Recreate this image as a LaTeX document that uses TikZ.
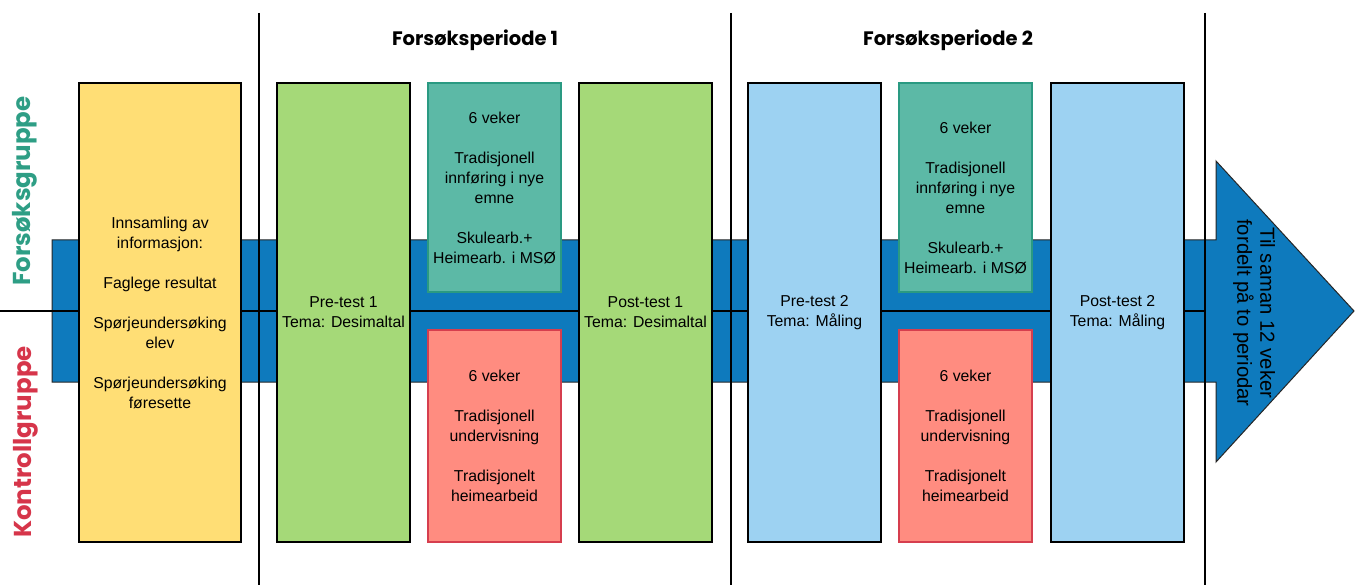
\documentclass[tikz,border=0pt]{standalone}
\usepackage{fontspec}
\setmainfont{Liberation Sans}
\newfontfamily\handfont{Poppins}
\usepackage{xcolor}
\usepackage{tikz}

\definecolor{infoyellow}{HTML}{FFDE75}
\definecolor{testgreen}{HTML}{A5D978}
\definecolor{testblue}{HTML}{9DD2F2}
\definecolor{expfill}{HTML}{5CB9A6}
\definecolor{expedge}{HTML}{2A9A82}
\definecolor{ctlfill}{HTML}{FF8C80}
\definecolor{ctledge}{HTML}{D63E4E}
\definecolor{bandblue}{HTML}{0E7ABD}
\definecolor{explabel}{HTML}{2E9E85}
\definecolor{ctllabel}{HTML}{D6354A}

\begin{document}
\begin{tikzpicture}[x=1pt, y=-1pt,
  box/.style={draw=black, line width=1.3pt, inner sep=2pt, minimum width=133pt,
    align=center, font=\fontsize{15.8}{20}\selectfont},
  testbox/.style={box, minimum height=459pt},
  expbox/.style={box, fill=expfill, draw=expedge, minimum height=209pt},
  ctlbox/.style={box, fill=ctlfill, draw=ctledge, minimum height=212pt},
  divider/.style={draw=black, line width=1.3pt},
  heading/.style={font=\handfont\bfseries\fontsize{19.5}{24}\selectfont},
  grouplabel/.style={rotate=90, font=\handfont\bfseries\fontsize{24.5}{28}\selectfont}]
\useasboundingbox (0,0) rectangle (1355,585);

% Band with arrow head
\draw[fill=bandblue, draw=black!85, line width=1pt]
  (52,240) -- (1216,240) -- (1216,161) -- (1354,311) -- (1216,462)
  -- (1216,382) -- (52,382) -- cycle;
\node[rotate=-90, align=center, font=\fontsize{20.3}{23}\selectfont] (total) at (1254,313)
  {Til saman 12 veker\\fordelt på to periodar};

% Dividers
\draw[divider] (0,311) -- (1205,311);
\foreach \x in {259,731,1205}
  \draw[divider] (\x,13) -- (\x,585);

% Headings
\node[heading] (period1) at (475,40) {Forsøksperiode 1};
\node[heading] (period2) at (948,40) {Forsøksperiode 2};
\node[grouplabel, text=explabel] (expgroup) at (25,191) {Forsøksgruppe};
\node[grouplabel, text=ctllabel] (ctlgroup) at (26,442) {Kontrollgruppe};

% Boxes
\node[testbox, fill=infoyellow, minimum width=162pt] (info) at (160,312.5)
  {Innsamling av\\informasjon:\\[20pt]Faglege resultat\\[20pt]Spørjeundersøking\\elev\\[20pt]Spørjeundersøking\\føresette};
\node[testbox, fill=testgreen] (pre1) at (343.5,312.5) {Pre-test 1\\Tema: Desimaltal};
\node[expbox] (exp1) at (494.5,187.5)
  {6 veker\\[20pt]Tradisjonell\\innføring i nye\\emne\\[20pt]Skulearb.+\\Heimearb. i MSØ};
\node[ctlbox] (ctl1) at (494.5,436)
  {6 veker\\[20pt]Tradisjonell\\undervisning\\[20pt]Tradisjonelt\\heimearbeid};
\node[testbox, fill=testgreen] (post1) at (645.5,312.5) {Post-test 1\\Tema: Desimaltal};

\node[testbox, fill=testblue] (pre2) at (814.5,312.5) {Pre-test 2\\Tema: Måling};
\node[expbox] (exp2) at (965.5,187.5) {};
\node[box, draw=none] (exp2text) at ([yshift=-10pt]exp2.center)
  {6 veker\\[20pt]Tradisjonell\\innføring i nye\\emne\\[20pt]Skulearb.+\\Heimearb. i MSØ};
\node[ctlbox] (ctl2) at (965.5,436)
  {6 veker\\[20pt]Tradisjonell\\undervisning\\[20pt]Tradisjonelt\\heimearbeid};
\node[testbox, fill=testblue] (post2) at (1117.5,312.5) {Post-test 2\\Tema: Måling};
\end{tikzpicture}
\end{document}
